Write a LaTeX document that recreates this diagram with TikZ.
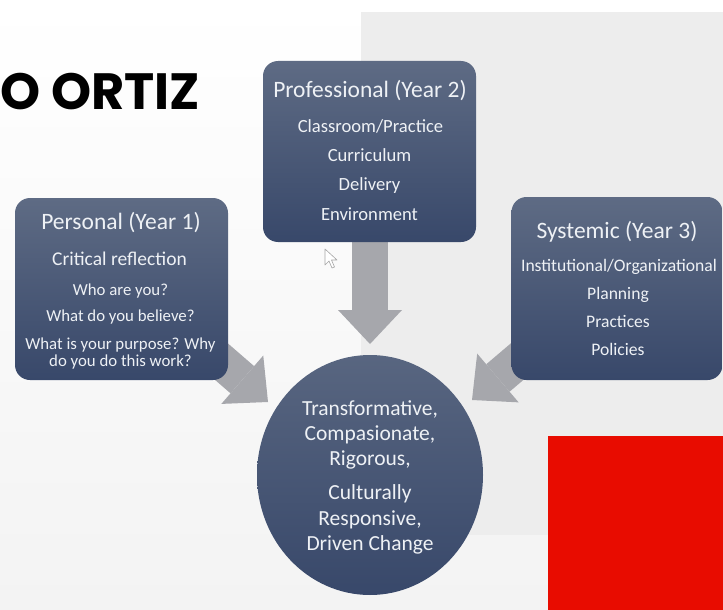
\documentclass[tikz,border=0pt]{standalone}
\usepackage{fontspec}
\setmainfont{Carlito}
\newfontfamily\titlefont{Poppins}
\usetikzlibrary{arrows.meta,shapes.geometric}
\definecolor{boxtop}{HTML}{5E6B84}
\definecolor{boxbot}{HTML}{38486A}
\definecolor{arrowgray}{HTML}{A6A7AC}
\definecolor{panelgray}{HTML}{EDEDED}
\definecolor{panellow}{HTML}{F3F3F3}
\definecolor{slidered}{HTML}{E80C00}
\definecolor{txt}{HTML}{EEF1F5}
\tikzset{
  box/.style={rounded corners=15pt, top color=boxtop, bottom color=boxbot, draw=none, inner sep=0pt},
  bigarrow/.style={line width=36pt, arrowgray, -{Triangle[width=64pt,length=34pt,line width=0pt]}},
  txtnode/.style={anchor=base, text=txt, inner sep=0pt},
  head/.style={txtnode, font=\fontsize{23.5}{23.5}\selectfont},
  persmain/.style={txtnode, font=\fontsize{19.5}{19.5}\selectfont},
  small/.style={txtnode, font=\fontsize{16.8}{16.8}\selectfont},
  profitem/.style={txtnode, font=\fontsize{18.6}{18.6}\selectfont},
  sysitem/.style={txtnode, font=\fontsize{17.6}{17.6}\selectfont},
  circ/.style={txtnode, font=\fontsize{21.5}{21.5}\selectfont}
}
\begin{document}
\begin{tikzpicture}[x=1pt,y=-1pt]
\useasboundingbox (0,0) rectangle (723,610);
% background
\shade[top color=white, bottom color=panellow] (0,0) rectangle (723,610);
\fill[panelgray] (361,12) rectangle (723,535);
\fill[slidered] (548,436) rectangle (723,610);
% title
\node[anchor=base west, inner sep=0pt, font=\titlefont\bfseries\fontsize{51}{51}\selectfont] (title) at (0,110) {O ORTIZ};
% arrow coordinates
\coordinate (ls) at (208,350);
\coordinate (ltip) at (268,402);
\coordinate (rs) at (532,349);
\coordinate (rtip) at (472,400);
\coordinate (ds) at (370,200);
\coordinate (dtip) at (370,344);
\draw[bigarrow] (ls) -- (ltip);
\draw[bigarrow] (rs) -- (rtip);
\draw[bigarrow] (ds) -- (dtip);
% boxes
\node[box, minimum width=213pt, minimum height=182pt] (personal) at (121.5,289) {};
\node[box, minimum width=213pt, minimum height=181pt] (prof) at (369.5,151.5) {};
\node[box, minimum width=211pt, minimum height=183pt] (sys) at (617,288.5) {};
\node[ellipse, top color=boxtop!85!boxbot, bottom color=boxbot, minimum width=226pt, minimum height=240pt, inner sep=0pt] (core) at (370,475) {};
% personal text
\node[head] (p0) at (121,229) {Personal (Year 1)};
\node[persmain] (p1) at (119.5,265) {Critical reflection};
\node[small] (p2) at (120.5,295) {Who are you?};
\node[small] (p3) at (120.5,321) {What do you believe?};
\node[small] (p4) at (120.5,349) {What is your purpose? Why};
\node[small] (p5) at (120.5,366) {do you do this work?};
% professional text
\node[head] (q0) at (370,98) {Professional (Year 2)};
\node[profitem] (q1) at (370.5,132) {Classroom/Practice};
\node[profitem] (q2) at (369.5,161) {Curriculum};
\node[profitem] (q3) at (369.5,190) {Delivery};
\node[profitem] (q4) at (369.5,220) {Environment};
% systemic text
\node[head] (s0) at (617,238) {Systemic (Year 3)};
\node[sysitem] (s1) at (619,271) {Institutional/Organizational};
\node[sysitem] (s2) at (618,299) {Planning};
\node[sysitem] (s3) at (618,327) {Practices};
\node[sysitem] (s4) at (618,355) {Policies};
% core text
\node[circ] (c1) at (370,415) {Transformative,};
\node[circ] (c2) at (370,440) {Compasionate,};
\node[circ] (c3) at (370,465) {Rigorous,};
\node[circ] (c4) at (370,499) {Culturally};
\node[circ] (c5) at (370,525) {Responsive,};
\node[circ] (c6) at (370,550) {Driven Change};
% mouse cursor
\draw[fill=white, draw=gray!70, line width=0.6pt, line join=round]
  (325,249) -- (325,265) -- (329,261) -- (332,268) -- (334.5,267) -- (331.5,260) -- (337,260) -- cycle;
\end{tikzpicture}
\end{document}
